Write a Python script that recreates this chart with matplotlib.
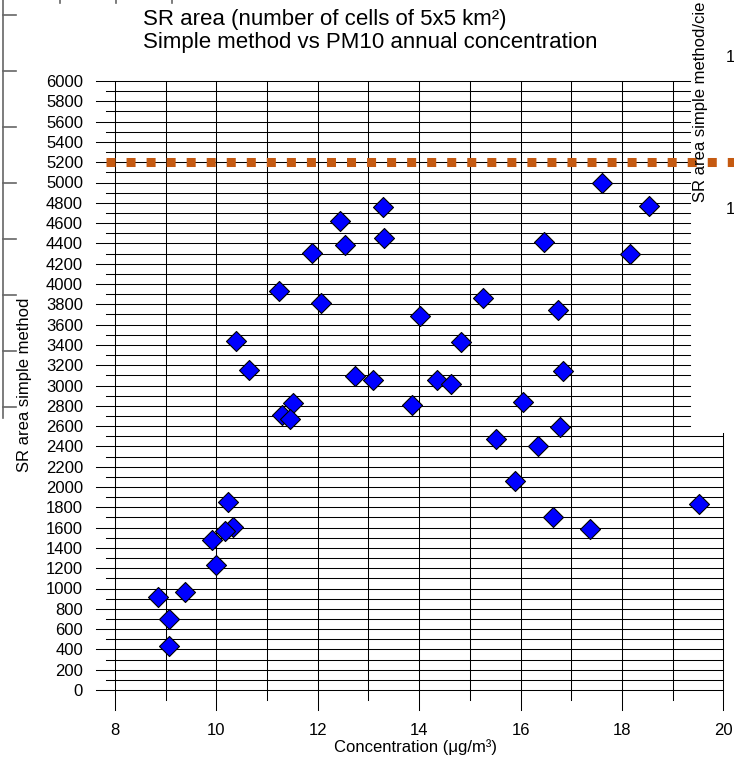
#!/usr/bin/env python3
'''
SR area (simple method) against PM10 annual concentration, scatter with 5200 cells threshold
'''
import matplotlib.pyplot as plt
from matplotlib.lines import Line2D

W, H = 734, 762

# PM10 annual concentration (ug/m3) and SR area (cells)
concentration = [11.52, 11.29, 11.45, 10.22, 10.33, 10.17, 9.91, 9.99, 9.39, 8.85,
                 9.06, 9.07, 13.29, 12.44, 13.31, 12.54, 11.88, 11.24, 12.06, 15.25,
                 14.02, 14.82, 10.38, 10.64, 12.74, 13.09, 14.35, 14.62, 13.86, 17.60,
                 18.54, 16.47, 18.16, 16.74, 16.84, 16.05, 16.77, 15.52, 16.34, 15.89,
                 19.53, 16.64, 17.38]
sr_area = [2830, 2710, 2670, 1855, 1610, 1570, 1480, 1230, 965, 920,
           700, 435, 4760, 4620, 4455, 4380, 4310, 3935, 3815, 3860,
           3685, 3425, 3435, 3155, 3090, 3050, 3055, 3010, 2810, 5000,
           4770, 4410, 4295, 3745, 3145, 2835, 2590, 2475, 2405, 2060,
           1835, 1700, 1590]
threshold = 5200

x_ticks = list(range(8, 21, 2))
y_ticks = list(range(0, 6001, 200))


def fig_xy(px, py):
    '''
    pixel position (from top left) to figure fraction
    '''
    return px / W, 1 - py / H


plt.rcParams['font.family'] = ['Liberation Sans', 'DejaVu Sans']
fig = plt.figure(figsize=(W / 100, H / 100), dpi=100)
ax = fig.add_axes([115 / W, 72 / H, 608.3 / W, 609 / H])
ax.set_xlim(8, 20)
ax.set_ylim(0, 6000)
for side in ax.spines.values():
    side.set_visible(False)

ax.set_xticks(x_ticks)
ax.set_yticks(y_ticks)
ax.tick_params(axis='both', length=0, labelsize=12)
ax.tick_params(axis='y', pad=23)
ax.tick_params(axis='x', pad=24)

# horizontal grid: every 100, the labelled ones stick out further to the left
for y in range(0, 6001, 100):
    x0 = 7.62 if y % 200 == 0 else 7.82
    x1 = 20 if y <= 2500 else 19.35
    ax.plot([x0, x1], [y, y], color='black', lw=0.75, clip_on=False, zorder=1)

# vertical grid, even values reach a bit lower
for x in range(8, 21):
    y0 = -200 if x % 2 == 0 else -100
    y1 = 6000 if x < 20 else 2530
    ax.plot([x, x], [y0, y1], color='black', lw=0.75, clip_on=False, zorder=1)

ax.plot([7.82, 20.4], [threshold, threshold], color='#C55A11', lw=6.5,
        dashes=(1, 1.22), dash_capstyle='butt', clip_on=False, zorder=3)

ax.scatter(concentration, sr_area, marker='D', s=104, c='#0000FF',
           edgecolors='black', linewidths=0.8, zorder=4, clip_on=False)

# titles and axis labels
fig.text(*fig_xy(143, 25), 'SR area (number of cells of 5x5 km\u00b2)',
         fontsize=16, va='baseline')
fig.text(*fig_xy(143, 48), 'Simple method vs PM10 annual concentration',
         fontsize=16, va='baseline')
fig.text(*fig_xy(25, 385), 'SR area simple method', rotation=90,
         ha='center', va='center', fontsize=12)
fig.text(*fig_xy(415, 747), 'Concentration (\u03bcg/m\u00b3)',
         ha='center', va='center', fontsize=12)

# leftovers of the chart underneath
fig.text(*fig_xy(700, 202), 'SR area simple method/cie', rotation=90,
         ha='center', va='bottom', fontsize=12)
for py in [58, 210]:
    fig.text(*fig_xy(730, py), '1', ha='center', va='center', fontsize=12)

art = dict(color='#666666', lw=1.2, transform=fig.transFigure)
fig.add_artist(Line2D([3 / W, 3 / W], [1, 1 - 418 / H], **art))
for py in [15, 71, 127, 183, 239, 295, 351, 407]:
    fig.add_artist(Line2D([3 / W, 16 / W], [1 - py / H, 1 - py / H], **art))
for px in [60, 116, 172]:
    fig.add_artist(Line2D([px / W, px / W], [1, 1 - 3 / H], **art))

fig.savefig('out.png', dpi=100)
